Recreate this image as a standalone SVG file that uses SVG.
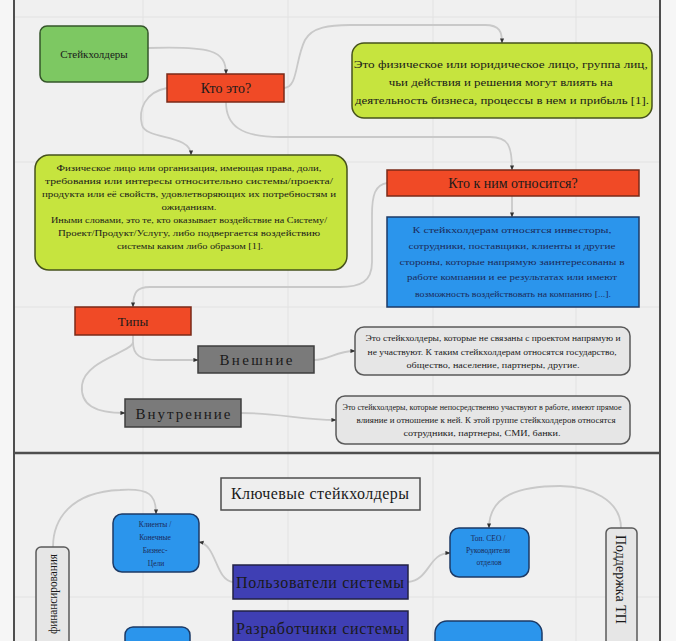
<svg xmlns="http://www.w3.org/2000/svg" width="676" height="641" viewBox="0 0 676 641">
<defs>
<marker id="ah" viewBox="0 0 6 6" refX="5.5" refY="3" markerWidth="5" markerHeight="5" orient="auto" markerUnits="userSpaceOnUse">
<path d="M0,0.5 L6,3 L0,5.5 Z" fill="#333"/>
</marker>
<style>
text{font-family:"Liberation Serif","Times New Roman",serif;fill:#1a1a1a}
.c{fill:none;stroke:#c9c9c9;stroke-width:1.8;marker-end:url(#ah)}
.grid{stroke:#e2e2e2;stroke-width:1}
.red{fill:#f04a26;stroke:#7a2a18;stroke-width:1.5}
.yel{fill:#c6e43e;stroke:#46521c;stroke-width:1.5}
.blu{fill:#2b95ec;stroke:#1c3a66;stroke-width:1.5}
.gry{fill:#7a7a7a;stroke:#3e3e3e;stroke-width:1.5}
.lgr{fill:#e6e6e6;stroke:#5a5a5a;stroke-width:1.5}
.dbl{fill:#3f3fb4;stroke:#222244;stroke-width:1.5}
.t14{font-size:14px}
.p{font-size:8px}
.bt{fill:#1b2a58}
</style>
</defs>
<rect width="676" height="641" fill="#f6f6f6"/>
<rect x="14" y="0" width="646" height="641" fill="#f0f0f0"/>
<g id="grid">
<line class="grid" x1="143" y1="0" x2="143" y2="641"/>
<line class="grid" x1="288" y1="0" x2="288" y2="641"/>
<line class="grid" x1="433" y1="0" x2="433" y2="641"/>
<line class="grid" x1="576" y1="0" x2="576" y2="641"/>
<line class="grid" x1="14" y1="17" x2="660" y2="17"/>
<line class="grid" x1="14" y1="162" x2="660" y2="162"/>
<line class="grid" x1="14" y1="307" x2="660" y2="307"/>
<line class="grid" x1="14" y1="597" x2="660" y2="597"/>
</g>
<g id="frame" stroke="#4e4e4e" fill="none">
<line x1="14" y1="0" x2="14" y2="641" stroke-width="2"/>
<line x1="660" y1="0" x2="660" y2="641" stroke-width="2"/>
<line x1="14" y1="453" x2="660" y2="453" stroke-width="2.5"/>
</g>
<g id="connectors">
<path class="c" d="M148,48 C210,46 226,50 226,74"/>
<path class="c" d="M284,88 C298,88 295,60 305,40 C312,27 330,25 350,25 L485,25 C500,25 502,32 502,43"/>
<path class="c" d="M167,88 C145,92 138,110 142,125 C146,140 191,134 191,155"/>
<path class="c" d="M226,102 C226,125 240,137 280,137 L490,137 C508,137 512,145 512,170"/>
<path class="c" d="M387,183 C375,185 372,195 372,215 L372,262 C372,282 360,287 340,287 L150,287 C137,287 133,292 133,307"/>
<path class="c" d="M512,196 L512,217"/>
<path class="c" d="M133,335 L133,342 C133,355 140,360 158,360 L198,360"/>
<path class="c" d="M133,342 C133,352 85,360 82,385 C80,405 95,413 125,413"/>
<path class="c" d="M314,360 C330,360 335,351 355,351"/>
<path class="c" d="M241,413 C280,413 300,420 336,420"/>
<path class="c" d="M53,547 C53,520 70,492 120,490 C150,488 156,495 156,514"/>
<path class="c" d="M233,582 C215,580 217,545 199,542"/>
<path class="c" d="M408,582 C430,580 428,553 450,553"/>
<path class="c" d="M621,528 C621,500 590,486 560,486 C520,486 489,495 489,528"/>
</g>
<g id="n-stakeholders">
<rect x="40" y="26" width="108" height="56" rx="7" fill="#7dc862" stroke="#35562a" stroke-width="1.5"/>
<text x="94" y="58" font-size="11" text-anchor="middle">Стейкхолдеры</text>
</g>
<g id="n-who">
<rect class="red" x="167" y="74" width="117" height="28"/>
<text class="t14" x="226" y="93" text-anchor="middle">Кто это?</text>
</g>
<g id="n-def1">
<rect class="yel" x="352" y="43" width="300" height="75" rx="12"/>
<text font-size="10" text-anchor="middle">
<tspan x="502" y="68" textLength="294" lengthAdjust="spacingAndGlyphs">Это физическое или юридическое лицо, группа лиц,</tspan>
<tspan x="502" y="86" textLength="224" lengthAdjust="spacingAndGlyphs">чьи действия и решения могут влиять на</tspan>
<tspan x="502" y="104" textLength="294" lengthAdjust="spacingAndGlyphs">деятельность бизнеса, процессы в нем и прибыль [1].</tspan>
</text>
</g>
<g id="n-def2">
<rect class="yel" x="35" y="155" width="312" height="115" rx="14"/>
<text class="p" text-anchor="middle">
<tspan x="190" y="171" textLength="265" lengthAdjust="spacingAndGlyphs">Физическое лицо или организация, имеющая права, доли,</tspan>
<tspan x="190" y="184" textLength="288" lengthAdjust="spacingAndGlyphs">требования или интересы относительно системы/проекта/</tspan>
<tspan x="190" y="197" textLength="294" lengthAdjust="spacingAndGlyphs">продукта или её свойств, удовлетворяющих их потребностям и</tspan>
<tspan x="190" y="210" textLength="55" lengthAdjust="spacingAndGlyphs">ожиданиям.</tspan>
<tspan x="190" y="223" textLength="276" lengthAdjust="spacingAndGlyphs">Иными словами, это те, кто оказывает воздействие на Систему/</tspan>
<tspan x="190" y="236" textLength="262" lengthAdjust="spacingAndGlyphs">Проект/Продукт/Услугу, либо подвергается воздействию</tspan>
<tspan x="190" y="249" textLength="146" lengthAdjust="spacingAndGlyphs">системы каким либо образом [1].</tspan>
</text>
</g>
<g id="n-whobelongs">
<rect class="red" x="387" y="170" width="252" height="26"/>
<text class="t14" x="513" y="188" text-anchor="middle">Кто к ним относится?</text>
</g>
<g id="n-list">
<rect class="blu" x="387" y="217" width="252" height="90"/>
<text class="p bt" text-anchor="middle">
<tspan x="513" y="233" textLength="199" lengthAdjust="spacingAndGlyphs">К стейкхолдерам относятся инвесторы,</tspan>
<tspan x="513" y="249" textLength="207" lengthAdjust="spacingAndGlyphs">сотрудники, поставщики, клиенты и другие</tspan>
<tspan x="513" y="265" textLength="225" lengthAdjust="spacingAndGlyphs">стороны, которые напрямую заинтересованы в</tspan>
<tspan x="513" y="280" textLength="210" lengthAdjust="spacingAndGlyphs">работе компании и ее результатах или имеют</tspan>
<tspan x="513" y="297" textLength="196" lengthAdjust="spacingAndGlyphs">возможность воздействовать на компанию [...].</tspan>
</text>
</g>
<g id="n-types">
<rect class="red" x="75" y="307" width="116" height="28"/>
<text font-size="13" x="133" y="326" text-anchor="middle">Типы</text>
</g>
<g id="n-external">
<rect class="gry" x="198" y="346" width="116" height="27"/>
<text font-size="15" x="256" y="365" text-anchor="middle" textLength="73" lengthAdjust="spacing">Внешние</text>
</g>
<g id="n-internal">
<rect class="gry" x="125" y="399" width="116" height="28"/>
<text font-size="15" x="183" y="419" text-anchor="middle" textLength="95" lengthAdjust="spacing">Внутренние</text>
</g>
<g id="n-ext-desc">
<rect class="lgr" x="355" y="327" width="275" height="48" rx="9"/>
<text font-size="7.5" text-anchor="middle" fill="#333">
<tspan x="494" y="341" textLength="255" lengthAdjust="spacingAndGlyphs">Это стейкхолдеры, которые не связаны с проектом напрямую и</tspan>
<tspan x="493" y="355" textLength="249" lengthAdjust="spacingAndGlyphs">не участвуют. К таким стейкхолдерам относятся государство,</tspan>
<tspan x="493" y="368" textLength="173" lengthAdjust="spacingAndGlyphs">общество, население, партнеры, другие.</tspan>
</text>
</g>
<g id="n-int-desc">
<rect class="lgr" x="336" y="396" width="294" height="48" rx="9"/>
<text font-size="7.5" text-anchor="middle" fill="#333">
<tspan x="483" y="410" textLength="279" lengthAdjust="spacingAndGlyphs">Это стейкхолдеры, которые непосредственно участвуют в работе, имеют прямое</tspan>
<tspan x="487" y="423" textLength="259" lengthAdjust="spacingAndGlyphs">влияние и отношение к ней. К этой группе стейкхолдеров относятся</tspan>
<tspan x="482" y="436" textLength="157" lengthAdjust="spacingAndGlyphs">сотрудники, партнеры, СМИ, банки.</tspan>
</text>
</g>
<g id="n-key">
<rect x="221" y="478" width="199" height="32" fill="#eeeeee" stroke="#4e4e4e" stroke-width="1.5"/>
<text font-size="16" x="320" y="499" text-anchor="middle" textLength="178" lengthAdjust="spacing">Ключевые стейкхолдеры</text>
</g>
<g id="n-clients">
<rect class="blu" x="113" y="514" width="86" height="58" rx="9"/>
<text font-size="7.5" class="bt" text-anchor="middle">
<tspan x="156" y="527">Клиенты /</tspan>
<tspan x="156" y="540">Конечные</tspan>
<tspan x="156" y="553">Бизнес-</tspan>
<tspan x="156" y="566">Цели</tspan>
</text>
</g>
<g id="n-ceo">
<rect class="blu" x="450" y="528" width="79" height="49" rx="9"/>
<text font-size="7.5" class="bt" text-anchor="middle">
<tspan x="489" y="541">Топ. СЕО /</tspan>
<tspan x="489" y="553">Руководители</tspan>
<tspan x="489" y="565">отделов</tspan>
</text>
</g>
<g id="n-users">
<rect class="dbl" x="233" y="565" width="175" height="34"/>
<text font-size="16" x="320" y="588" text-anchor="middle" textLength="168" lengthAdjust="spacing">Пользователи системы</text>
</g>
<g id="n-devs">
<rect class="dbl" x="233" y="611" width="175" height="40"/>
<text font-size="16" x="320" y="634" text-anchor="middle" textLength="168" lengthAdjust="spacing">Разработчики системы</text>
</g>
<g id="n-finance">
<rect class="lgr" x="36" y="547" width="33" height="110" rx="5"/>
<text font-size="12" text-anchor="end" transform="translate(57,554) rotate(-90)" textLength="80" lengthAdjust="spacingAndGlyphs">финансирования</text>
</g>
<g id="n-support">
<rect class="lgr" x="606" y="528" width="31" height="130" rx="5"/>
<text font-size="14" transform="translate(616,535) rotate(90)">Поддержка ТП</text>
</g>
<g id="n-bottom-left">
<rect class="blu" x="125" y="627" width="65" height="30" rx="8"/>
</g>
<g id="n-bottom-right">
<rect class="blu" x="435" y="621" width="107" height="36" rx="12"/>
</g>
</svg>
